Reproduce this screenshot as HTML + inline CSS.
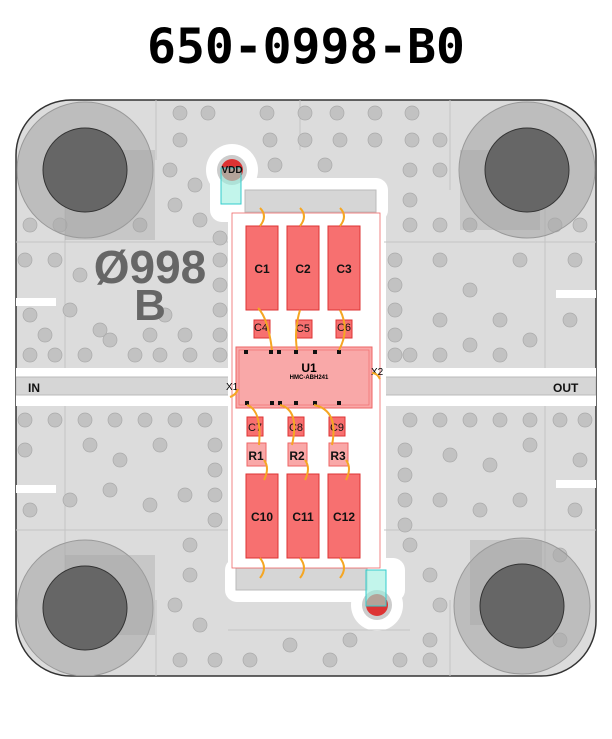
<!DOCTYPE html>
<html><head><meta charset="utf-8"><style>
html,body{margin:0;padding:0;background:#fff;width:612px;height:739px;overflow:hidden}
svg{display:block}
</style></head><body>
<svg width="612" height="739" viewBox="0 0 612 739" xmlns="http://www.w3.org/2000/svg" font-family="Liberation Sans, sans-serif">
<text x="306" y="63" text-anchor="middle" font-family="DejaVu Sans Mono, Liberation Mono, monospace" font-weight="bold" font-size="48" fill="#000">650-0998-B0</text>
<defs><clipPath id="b"><rect x="16" y="100" width="580" height="576" rx="55"/></clipPath></defs>
<rect x="16" y="100" width="580" height="576" rx="55" fill="#dcdcdc" stroke="#333" stroke-width="1.5"/>
<g clip-path="url(#b)">
<!-- white gaps -->
<rect x="16" y="368" width="580" height="38" fill="#fff"/>
<rect x="16" y="377" width="580" height="18" fill="#d6d6d6" stroke="#bbb"/>
<circle cx="232" cy="170" r="26" fill="#fff"/>
<rect x="210" y="170" width="44" height="40" rx="12" fill="#fff"/>
<rect x="210" y="178" width="178" height="44" rx="12" fill="#fff"/>
<rect x="228" y="208" width="158" height="370" fill="#fff"/>
<rect x="225" y="558" width="180" height="44" rx="12" fill="#fff"/>
<circle cx="377" cy="605" r="26" fill="#fff"/>
<rect x="354" y="570" width="46" height="40" rx="12" fill="#fff"/>
<rect x="245" y="190" width="131" height="22" fill="#d6d6d6" stroke="#bbb"/>
<rect x="236" y="568" width="131" height="22" fill="#d6d6d6" stroke="#bbb"/>
<rect x="16" y="298" width="40" height="8" fill="#fff"/>
<rect x="556" y="290" width="40" height="8" fill="#fff"/>
<rect x="16" y="485" width="40" height="8" fill="#fff"/>
<rect x="556" y="480" width="40" height="8" fill="#fff"/>
<g stroke="#c4c4c4" fill="none">
<line x1="16" y1="242" x2="228" y2="242"/><line x1="65" y1="150" x2="65" y2="368"/><line x1="65" y1="406" x2="65" y2="640"/>
<line x1="156" y1="100" x2="156" y2="160"/><line x1="384" y1="242" x2="596" y2="242"/><line x1="545" y1="150" x2="545" y2="368"/>
<line x1="16" y1="530" x2="228" y2="530"/><line x1="384" y1="530" x2="596" y2="530"/><line x1="545" y1="406" x2="545" y2="620"/>
<line x1="450" y1="100" x2="450" y2="190"/><line x1="450" y1="600" x2="450" y2="676"/><line x1="156" y1="600" x2="156" y2="676"/>
<line x1="228" y1="630" x2="410" y2="630"/><line x1="300" y1="100" x2="300" y2="150"/>
</g>
<!-- vias -->
<g fill="#c2c2c2" stroke="#aaa" stroke-width="0.7">
<circle cx="180" cy="113" r="7"/><circle cx="208" cy="113" r="7"/><circle cx="267" cy="113" r="7"/><circle cx="305" cy="113" r="7"/><circle cx="337" cy="113" r="7"/><circle cx="375" cy="113" r="7"/><circle cx="412" cy="113" r="7"/>
<circle cx="180" cy="140" r="7"/><circle cx="270" cy="140" r="7"/><circle cx="305" cy="140" r="7"/><circle cx="340" cy="140" r="7"/><circle cx="375" cy="140" r="7"/><circle cx="412" cy="140" r="7"/><circle cx="440" cy="140" r="7"/>
<circle cx="170" cy="170" r="7"/><circle cx="195" cy="185" r="7"/><circle cx="275" cy="165" r="7"/><circle cx="325" cy="165" r="7"/><circle cx="410" cy="170" r="7"/><circle cx="440" cy="170" r="7"/><circle cx="410" cy="200" r="7"/>
<circle cx="30" cy="225" r="7"/><circle cx="60" cy="225" r="7"/><circle cx="140" cy="225" r="7"/><circle cx="175" cy="205" r="7"/><circle cx="200" cy="220" r="7"/><circle cx="220" cy="238" r="7"/><circle cx="410" cy="225" r="7"/><circle cx="440" cy="225" r="7"/><circle cx="470" cy="225" r="7"/><circle cx="580" cy="225" r="7"/><circle cx="555" cy="225" r="7"/>
<circle cx="25" cy="260" r="7"/><circle cx="55" cy="260" r="7"/><circle cx="80" cy="275" r="7"/><circle cx="220" cy="260" r="7"/><circle cx="220" cy="285" r="7"/><circle cx="220" cy="310" r="7"/><circle cx="220" cy="335" r="7"/><circle cx="220" cy="355" r="7"/>
<circle cx="395" cy="260" r="7"/><circle cx="395" cy="285" r="7"/><circle cx="395" cy="310" r="7"/><circle cx="395" cy="335" r="7"/><circle cx="395" cy="355" r="7"/><circle cx="440" cy="260" r="7"/><circle cx="470" cy="290" r="7"/><circle cx="520" cy="260" r="7"/><circle cx="575" cy="260" r="7"/><circle cx="440" cy="320" r="7"/><circle cx="500" cy="320" r="7"/><circle cx="530" cy="340" r="7"/><circle cx="570" cy="320" r="7"/>
<circle cx="30" cy="315" r="7"/><circle cx="45" cy="335" r="7"/><circle cx="30" cy="355" r="7"/><circle cx="55" cy="355" r="7"/><circle cx="85" cy="355" r="7"/><circle cx="110" cy="340" r="7"/><circle cx="135" cy="355" r="7"/><circle cx="160" cy="355" r="7"/><circle cx="190" cy="355" r="7"/><circle cx="150" cy="335" r="7"/><circle cx="185" cy="335" r="7"/><circle cx="165" cy="315" r="7"/><circle cx="100" cy="330" r="7"/><circle cx="70" cy="310" r="7"/>
<circle cx="410" cy="355" r="7"/><circle cx="440" cy="355" r="7"/><circle cx="470" cy="345" r="7"/><circle cx="500" cy="355" r="7"/>
<circle cx="25" cy="420" r="7"/><circle cx="55" cy="420" r="7"/><circle cx="85" cy="420" r="7"/><circle cx="115" cy="420" r="7"/><circle cx="145" cy="420" r="7"/><circle cx="175" cy="420" r="7"/><circle cx="205" cy="420" r="7"/><circle cx="410" cy="420" r="7"/><circle cx="440" cy="420" r="7"/><circle cx="470" cy="420" r="7"/><circle cx="500" cy="420" r="7"/><circle cx="530" cy="420" r="7"/><circle cx="560" cy="420" r="7"/><circle cx="585" cy="420" r="7"/>
<circle cx="25" cy="450" r="7"/><circle cx="90" cy="445" r="7"/><circle cx="120" cy="460" r="7"/><circle cx="160" cy="445" r="7"/><circle cx="215" cy="445" r="7"/><circle cx="215" cy="470" r="7"/><circle cx="215" cy="495" r="7"/><circle cx="215" cy="520" r="7"/><circle cx="405" cy="450" r="7"/><circle cx="405" cy="475" r="7"/><circle cx="405" cy="500" r="7"/><circle cx="405" cy="525" r="7"/><circle cx="450" cy="455" r="7"/><circle cx="490" cy="465" r="7"/><circle cx="530" cy="445" r="7"/><circle cx="580" cy="460" r="7"/>
<circle cx="30" cy="510" r="7"/><circle cx="70" cy="500" r="7"/><circle cx="110" cy="490" r="7"/><circle cx="150" cy="505" r="7"/><circle cx="185" cy="495" r="7"/><circle cx="440" cy="500" r="7"/><circle cx="480" cy="510" r="7"/><circle cx="520" cy="500" r="7"/><circle cx="575" cy="510" r="7"/>
<circle cx="190" cy="545" r="7"/><circle cx="190" cy="575" r="7"/><circle cx="175" cy="605" r="7"/><circle cx="200" cy="625" r="7"/><circle cx="180" cy="660" r="7"/><circle cx="215" cy="660" r="7"/><circle cx="250" cy="660" r="7"/><circle cx="290" cy="645" r="7"/><circle cx="330" cy="660" r="7"/><circle cx="350" cy="640" r="7"/><circle cx="400" cy="660" r="7"/><circle cx="430" cy="640" r="7"/><circle cx="430" cy="660" r="7"/><circle cx="410" cy="545" r="7"/><circle cx="430" cy="575" r="7"/><circle cx="440" cy="605" r="7"/><circle cx="560" cy="555" r="7"/><circle cx="560" cy="640" r="7"/>
</g>
<!-- mounting holes -->
<g fill="#a8a8a8" fill-opacity="0.6" stroke="#999">
<circle cx="85" cy="170" r="68"/><circle cx="527" cy="170" r="68"/><circle cx="85" cy="608" r="68"/><circle cx="522" cy="606" r="68"/>
</g>
<g fill="#a0a0a0" fill-opacity="0.35">
<rect x="65" y="150" width="90" height="90"/><rect x="460" y="150" width="80" height="80"/><rect x="65" y="555" width="90" height="80"/><rect x="470" y="540" width="72" height="85"/>
</g>
<g fill="#666" stroke="#333">
<circle cx="85" cy="170" r="42"/><circle cx="527" cy="170" r="42"/><circle cx="85" cy="608" r="42"/><circle cx="522" cy="606" r="42"/>
</g>
</g>
<text x="150" y="283" text-anchor="middle" font-weight="bold" font-size="46" fill="#666">Ø998</text>
<text x="150" y="320" text-anchor="middle" font-weight="bold" font-size="44" fill="#666">B</text>
<text x="28" y="392" font-weight="bold" font-size="12" fill="#111">IN</text>
<text x="553" y="392" font-weight="bold" font-size="12" fill="#111">OUT</text>
<!-- vdd -->
<circle cx="232" cy="170" r="15" fill="#ccc"/>
<circle cx="232" cy="170" r="11" fill="#d33"/><rect x="221" y="168" width="20" height="36" fill="#9ed" fill-opacity="0.6" stroke="#3cc"/>
<text x="232" y="173" text-anchor="middle" font-weight="bold" font-size="10" fill="#111">VDD</text>
<circle cx="377" cy="605" r="15" fill="#ccc"/>
<circle cx="377" cy="605" r="11" fill="#d33"/><rect x="366" y="570" width="20" height="36" fill="#9ed" fill-opacity="0.6" stroke="#3cc"/>
<!-- module area -->
<rect x="232" y="213" width="148" height="355" fill="#fff" stroke="#e66" stroke-width="0.8"/>
<rect x="236" y="347" width="136" height="61" fill="#f9a8a8" stroke="#e66"/>
<rect x="239" y="350" width="130" height="55" fill="none" stroke="#e66" stroke-width="0.6"/>
<text x="309" y="372" text-anchor="middle" font-weight="bold" font-size="12">U1</text>
<text x="309" y="379" text-anchor="middle" font-weight="bold" font-size="6">HMC-ABH241</text>
<text x="226" y="390" font-size="10">X1</text><text x="371" y="375" font-size="10">X2</text>
<g fill="#111"><rect x="244" y="350" width="4" height="4"/><rect x="269" y="350" width="4" height="4"/><rect x="277" y="350" width="4" height="4"/><rect x="294" y="350" width="4" height="4"/><rect x="313" y="350" width="4" height="4"/><rect x="337" y="350" width="4" height="4"/>
<rect x="245" y="401" width="4" height="4"/><rect x="270" y="401" width="4" height="4"/><rect x="278" y="401" width="4" height="4"/><rect x="294" y="401" width="4" height="4"/><rect x="313" y="401" width="4" height="4"/><rect x="337" y="401" width="4" height="4"/></g>
<g fill="#f77070" stroke="#d33">
<rect x="246" y="226" width="32" height="84"/><rect x="287" y="226" width="32" height="84"/><rect x="328" y="226" width="32" height="84"/>
<rect x="254" y="320" width="16" height="18"/><rect x="296" y="320" width="16" height="18"/><rect x="336" y="320" width="16" height="18"/>
<rect x="247" y="417" width="16" height="19"/><rect x="288" y="417" width="16" height="19"/><rect x="329" y="417" width="16" height="19"/>
<rect x="246" y="474" width="32" height="84"/><rect x="287" y="474" width="32" height="84"/><rect x="328" y="474" width="32" height="84"/>
</g>
<g fill="#f9a8a8" stroke="#e66"><rect x="247" y="443" width="19" height="23"/><rect x="288" y="443" width="19" height="23"/><rect x="329" y="443" width="19" height="23"/></g>
<g font-weight="bold" font-size="12" text-anchor="middle" fill="#111">
<text x="262" y="273">C1</text><text x="303" y="273">C2</text><text x="344" y="273">C3</text>
<text x="262" y="521">C10</text><text x="303" y="521">C11</text><text x="344" y="521">C12</text>
<text x="256" y="460">R1</text><text x="297" y="460">R2</text><text x="338" y="460">R3</text>
</g>
<g font-size="11" text-anchor="middle" fill="#111">
<text x="261" y="331">C4</text><text x="303" y="332">C5</text><text x="344" y="331">C6</text>
<text x="255" y="431">C7</text><text x="296" y="431">C8</text><text x="337" y="431">C9</text>
</g>
<g fill="none" stroke="#f5a623" stroke-width="2">
<path d="M260 208 q8 8 0 18"/><path d="M300 208 q8 8 0 18"/><path d="M340 208 q8 8 0 18"/>
<path d="M258 308 q10 10 14 42"/><path d="M300 310 q-6 20 -3 40"/><path d="M340 310 q10 20 -1 40"/>
<path d="M247 405 q15 5 12 40"/><path d="M280 405 q20 5 12 40"/><path d="M314 405 q25 5 18 40"/>
<path d="M264 460 q6 8 0 20"/><path d="M305 460 q6 8 0 20"/><path d="M346 460 q6 8 0 20"/>
<path d="M260 558 q8 10 0 20"/><path d="M300 558 q8 10 0 20"/><path d="M340 558 q8 10 0 20"/>
<path d="M230 397 q6 -2 8 -8"/><path d="M372 373 q5 0 8 6"/>
</g>
</svg>
</body></html>
